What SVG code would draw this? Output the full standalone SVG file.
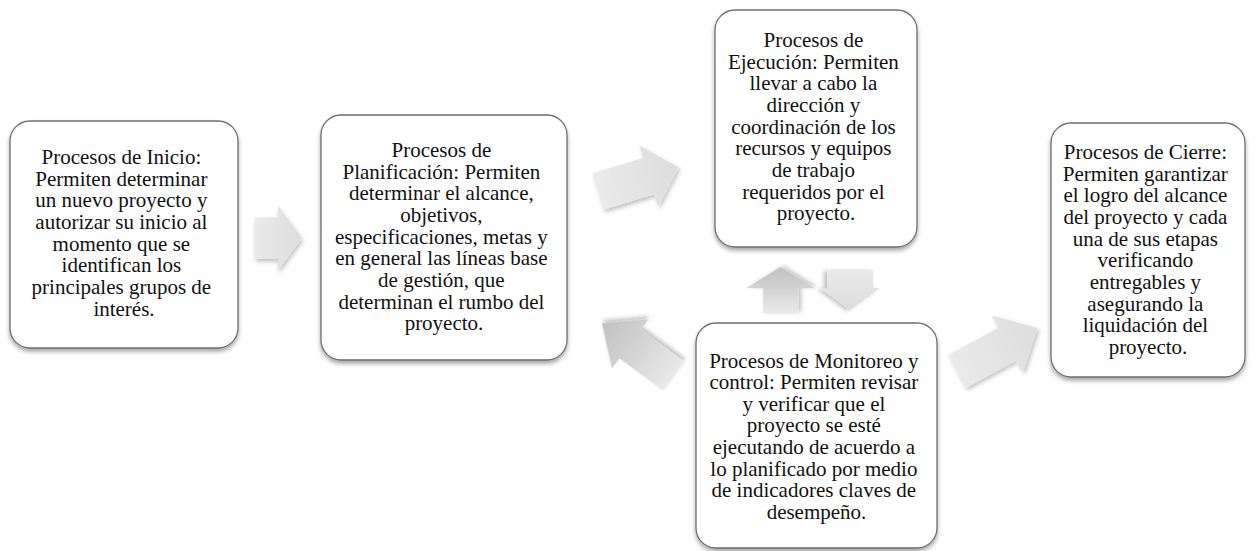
<svg xmlns="http://www.w3.org/2000/svg" width="1255" height="551" viewBox="0 0 1255 551">
<defs>
<filter id="sh" x="-20%" y="-20%" width="140%" height="140%">
<feDropShadow dx="0" dy="3" stdDeviation="2" flood-color="#000" flood-opacity="0.35"/>
</filter>
<filter id="ash" x="-30%" y="-30%" width="160%" height="160%">
<feDropShadow dx="1" dy="3" stdDeviation="2" flood-color="#000" flood-opacity="0.25"/>
</filter>
<linearGradient id="gA" x1="0" y1="0" x2="1" y2="0">
<stop offset="0" stop-color="#eaeaea"/>
<stop offset="1" stop-color="#dddddd"/>
</linearGradient>
<linearGradient id="gB" x1="0" y1="0" x2="1" y2="0">
<stop offset="0" stop-color="#e9e9e9"/>
<stop offset="1" stop-color="#c0c0c0"/>
</linearGradient>
</defs>
<style>
.box{fill:#fff;stroke:#6e6e6e;stroke-width:1.3;filter:url(#sh)}
.t{font-size:21px;fill:#111;text-anchor:middle}
.arr{filter:url(#ash)}
</style>
<rect width="1255" height="551" fill="#fff"/>
<g id="connectors">
<path class="arr" fill="url(#gA)" transform="translate(255,238)" d="M0,-20.5 H23 V-32.5 L47,0 L23,32.5 V20.5 H0 Z"/>
<path class="arr" fill="url(#gA)" transform="translate(598,191.5) rotate(-17)" d="M0,-19 H53 V-32 L84,0 L53,32 V19 H0 Z"/>
<path class="arr" fill="url(#gB)" transform="translate(780.5,313) rotate(-90)" d="M0,-17.5 H25 V-34 L46,0 L25,34 V17.5 H0 Z"/>
<path class="arr" fill="url(#gA)" transform="translate(850,270) rotate(90)" d="M0,-23 H18 V-30 L40,0 L18,30 V23 H0 Z"/>
<path class="arr" fill="url(#gB)" transform="translate(673.5,376) rotate(-143.5)" d="M0,-18 H54 V-30.5 L89,0 L54,30.5 V18 H0 Z"/>
<path class="arr" fill="url(#gA)" transform="translate(956.5,371.5) rotate(-28.4)" d="M0,-18.5 H57.5 V-32.5 L91.5,0 L57.5,32.5 V18.5 H0 Z"/>
</g>
<g id="inicio">
<rect class="box" x="10" y="121" width="228" height="227" rx="20"/>
<text class="t" font-family="'Liberation Serif', Tinos, 'DejaVu Serif', serif">
<tspan x="124" y="164">Procesos de Inicio:</tspan>
<tspan x="124" y="185.65">Permiten determinar</tspan>
<tspan x="124" y="207.3">un nuevo proyecto y</tspan>
<tspan x="124" y="228.95">autorizar su inicio al</tspan>
<tspan x="124" y="250.6">momento que se</tspan>
<tspan x="124" y="272.25">identifican los</tspan>
<tspan x="124" y="293.9">principales grupos de</tspan>
<tspan x="124" y="315.55">interés.</tspan>
</text>
</g>
<g id="planificacion">
<rect class="box" x="321" y="115" width="246" height="245" rx="20"/>
<text class="t" font-family="'Liberation Serif', Tinos, 'DejaVu Serif', serif">
<tspan x="444" y="157">Procesos de</tspan>
<tspan x="444" y="178.65">Planificación: Permiten</tspan>
<tspan x="444" y="200.3">determinar el alcance,</tspan>
<tspan x="444" y="221.95">objetivos,</tspan>
<tspan x="444" y="243.6">especificaciones, metas y</tspan>
<tspan x="444" y="265.25">en general las líneas base</tspan>
<tspan x="444" y="286.9">de gestión, que</tspan>
<tspan x="444" y="308.55">determinan el rumbo del</tspan>
<tspan x="444" y="330.2">proyecto.</tspan>
</text>
</g>
<g id="ejecucion">
<rect class="box" x="715" y="10" width="202" height="237" rx="20"/>
<text class="t" font-family="'Liberation Serif', Tinos, 'DejaVu Serif', serif">
<tspan x="816" y="47">Procesos de</tspan>
<tspan x="816" y="68.65">Ejecución: Permiten</tspan>
<tspan x="816" y="90.3">llevar a cabo la</tspan>
<tspan x="816" y="111.95">dirección y</tspan>
<tspan x="816" y="133.6">coordinación de los</tspan>
<tspan x="816" y="155.25">recursos y equipos</tspan>
<tspan x="816" y="176.9">de trabajo</tspan>
<tspan x="816" y="198.55">requeridos por el</tspan>
<tspan x="816" y="220.2">proyecto.</tspan>
</text>
</g>
<g id="monitoreo">
<rect class="box" x="696" y="323" width="241" height="225" rx="20"/>
<text class="t" font-family="'Liberation Serif', Tinos, 'DejaVu Serif', serif">
<tspan x="816.5" y="367.5">Procesos de Monitoreo y</tspan>
<tspan x="816.5" y="389.15">control: Permiten revisar</tspan>
<tspan x="816.5" y="410.8">y verificar que el</tspan>
<tspan x="816.5" y="432.45">proyecto se esté</tspan>
<tspan x="816.5" y="454.1">ejecutando de acuerdo a</tspan>
<tspan x="816.5" y="475.75">lo planificado por medio</tspan>
<tspan x="816.5" y="497.4">de indicadores claves de</tspan>
<tspan x="816.5" y="519.05">desempeño.</tspan>
</text>
</g>
<g id="cierre">
<rect class="box" x="1051" y="123" width="194" height="254" rx="20"/>
<text class="t" font-family="'Liberation Serif', Tinos, 'DejaVu Serif', serif">
<tspan x="1148" y="159">Procesos de Cierre:</tspan>
<tspan x="1148" y="180.65">Permiten garantizar</tspan>
<tspan x="1148" y="202.3">el logro del alcance</tspan>
<tspan x="1148" y="223.95">del proyecto y cada</tspan>
<tspan x="1148" y="245.6">una de sus etapas</tspan>
<tspan x="1148" y="267.25">verificando</tspan>
<tspan x="1148" y="288.9">entregables y</tspan>
<tspan x="1148" y="310.55">asegurando la</tspan>
<tspan x="1148" y="332.2">liquidación del</tspan>
<tspan x="1148" y="353.85">proyecto.</tspan>
</text>
</g>
</svg>
